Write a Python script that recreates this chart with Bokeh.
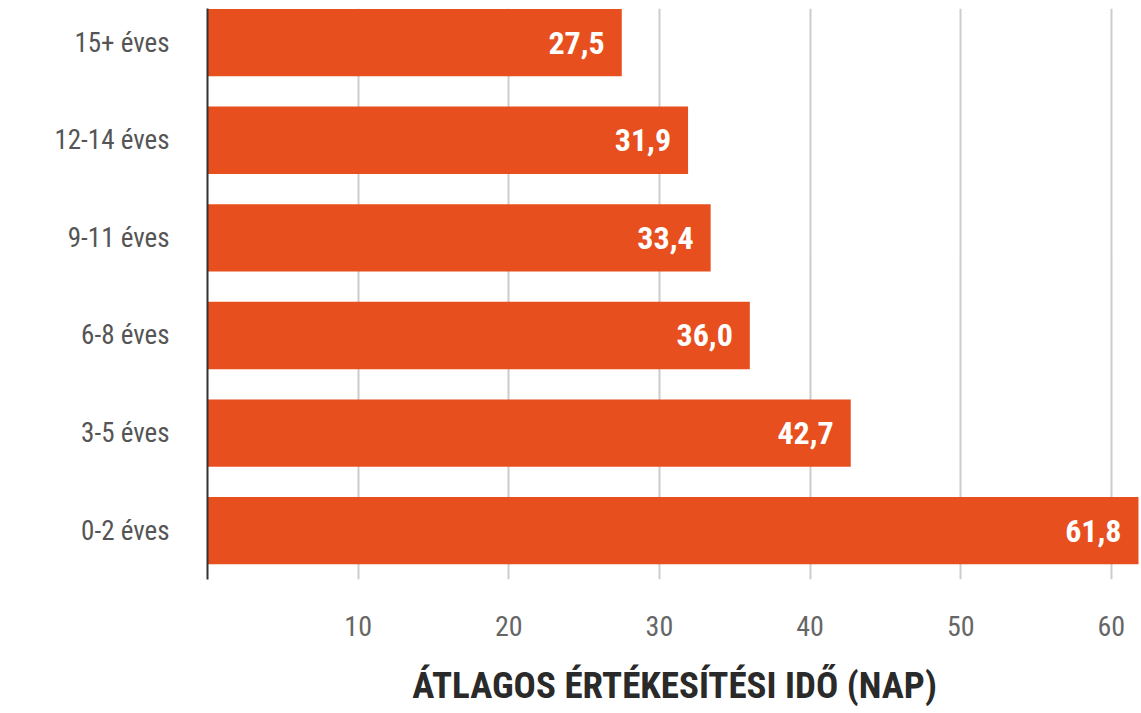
from bokeh.plotting import figure
from bokeh.models import Range1d, FixedTicker, ColumnDataSource
from bokeh.core.properties import value
from bokeh.embed import file_html
from bokeh.resources import INLINE

categories = ["0-2 éves", "3-5 éves", "6-8 éves", "9-11 éves", "12-14 éves", "15+ éves"]
values = [61.8, 42.7, 36.0, 33.4, 31.9, 27.5]
x_ticks = [10, 20, 30, 40, 50, 60]
x_title = "ÁTLAGOS ÉRTÉKESÍTÉSI IDŐ (NAP)"

BAR = "#E84F1E"
FONT = "Roboto Condensed"

ypos = [i + 0.5 for i in range(len(categories))]
labels = [f"{v:.1f}".replace(".", ",") for v in values]
src = ColumnDataSource(dict(y=ypos, v=values, lab=labels))

p = figure(width=1141, height=713, output_backend="svg", toolbar_location=None,
           x_range=Range1d(0, 62.0), y_range=Range1d(0, 5.85),
           min_border_left=207, min_border_right=0, min_border_top=8, min_border_bottom=134)
p.outline_line_color = None

p.hbar(y="y", right="v", left=0, height=0.69, source=src, color=BAR, line_color=None)

p.text(x="v", y="y", text="lab", source=src, x_offset=-17,
       text_align="right", text_baseline="middle", text_color="white",
       text_font=value(FONT), text_font_style="bold", text_font_size="32px")

# x axis
p.xaxis.ticker = FixedTicker(ticks=x_ticks)
p.xaxis.axis_line_color = None
p.xaxis.major_tick_line_color = None
p.xaxis.minor_tick_line_color = None
p.xaxis.major_label_standoff = 30
p.xaxis.major_label_text_font = FONT
p.xaxis.major_label_text_font_size = "28px"
p.xaxis.major_label_text_color = "#666666"
p.xaxis.axis_label = x_title
p.xaxis.axis_label_standoff = 25
p.xaxis.axis_label_text_font = FONT
p.xaxis.axis_label_text_font_style = "bold"
p.xaxis.axis_label_text_font_size = "37px"
p.xaxis.axis_label_text_color = "#2a2a2a"

# y axis
p.yaxis.ticker = FixedTicker(ticks=ypos)
p.yaxis.major_label_overrides = {y: c for y, c in zip(ypos, categories)}
p.yaxis.axis_line_color = "#333333"
p.yaxis.axis_line_width = 2
p.yaxis.major_tick_line_color = None
p.yaxis.minor_tick_line_color = None
p.yaxis.major_label_standoff = 32
p.yaxis.major_label_text_font = FONT
p.yaxis.major_label_text_font_size = "27px"
p.yaxis.major_label_text_color = "#555555"

p.xgrid.grid_line_color = "#cccccc"
p.xgrid.grid_line_width = 2
p.ygrid.grid_line_color = None

open("out.html", "w").write(file_html(p, INLINE))
